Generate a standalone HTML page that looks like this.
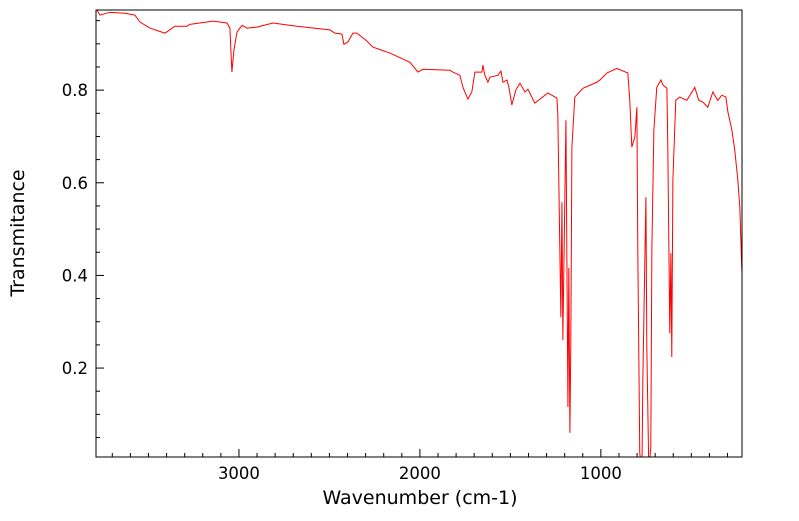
<!DOCTYPE html>
<html><head><meta charset="utf-8"><style>
html,body{margin:0;padding:0;background:#fff;}
svg text{font-family:"DejaVu Sans",sans-serif;fill:#000;}
</style></head><body>
<svg id="chart" width="799" height="516" xmlns="http://www.w3.org/2000/svg">
<defs><clipPath id="clip"><rect x="96" y="10" width="646" height="447"/></clipPath></defs>
<g id="ticks"></g>
<path id="line" fill="none" stroke="#ff0000" stroke-width="1" clip-path="url(#clip)"/>
<rect x="96" y="10" width="646" height="447" fill="none" stroke="#000" stroke-width="1"/>
<text x="420" y="504" font-size="19" text-anchor="middle">Wavenumber (cm-1)</text>
<text x="24" y="233" font-size="19" text-anchor="middle" transform="rotate(-90 24 233)">Transmitance</text>
</svg>
<script>
const wavenumbers=[3785,3768,3713,3630,3575,3547,3492,3409,3354,3287,3271,3144,3066,3050,3039,3028,3011,2983,2956,2901,2812,2680,2497,2470,2431,2420,2398,2370,2348,2293,2260,2166,2055,2011,1983,1834,1818,1779,1762,1735,1713,1696,1657,1652,1641,1624,1613,1569,1552,1541,1519,1508,1492,1470,1447,1420,1403,1365,1293,1243,1238,1221,1215,1210,1193,1182,1177,1171,1166,1160,1144,1099,1022,1005,967,912,851,840,829,812,801,796,785,773,768,751,746,735,724,718,707,691,668,657,635,630,619,613,608,602,586,564,525,481,459,436,409,381,354,331,309,298,276,260,243,232,221];
const transmittance=[0.973,0.962,0.968,0.966,0.962,0.947,0.934,0.923,0.938,0.938,0.942,0.949,0.945,0.934,0.839,0.886,0.925,0.940,0.934,0.936,0.945,0.938,0.930,0.923,0.921,0.899,0.904,0.923,0.923,0.906,0.893,0.880,0.860,0.839,0.845,0.843,0.839,0.832,0.806,0.781,0.796,0.839,0.839,0.854,0.832,0.817,0.828,0.832,0.841,0.817,0.822,0.806,0.768,0.800,0.815,0.796,0.802,0.772,0.794,0.783,0.750,0.310,0.558,0.260,0.735,0.116,0.416,0.060,0.254,0.677,0.785,0.804,0.817,0.822,0.837,0.847,0.837,0.778,0.677,0.699,0.763,0.461,0.016,-0.02,0.174,0.569,0.245,-0.02,0.029,0.461,0.714,0.806,0.822,0.811,0.804,0.677,0.275,0.448,0.224,0.606,0.778,0.785,0.778,0.806,0.778,0.774,0.763,0.796,0.778,0.789,0.785,0.753,0.714,0.670,0.606,0.547,0.411];
const xTickLabels=["3000","2000","1000"];
const yTickLabels=["0.2","0.4","0.6","0.8"];
const X0=96,X1=742,Y0=457,Y1=10,xMax=3790,xMin=220,yMin=0.008,yMax=0.973;
function sx(v){return X0+(xMax-v)/(xMax-xMin)*(X1-X0);}
function sy(v){return Y0-(v-yMin)/(yMax-yMin)*(Y0-Y1);}
const NS="http://www.w3.org/2000/svg";
let d="";
for(let i=0;i<wavenumbers.length;i++){d+=(i?"L":"M")+sx(wavenumbers[i]).toFixed(2)+","+sy(transmittance[i]).toFixed(2);}
document.getElementById("line").setAttribute("d",d);
const g=document.getElementById("ticks");
const svg=document.getElementById("chart");
function ln(x1,y1,x2,y2){const l=document.createElementNS(NS,"line");
l.setAttribute("x1",x1);l.setAttribute("y1",y1);l.setAttribute("x2",x2);l.setAttribute("y2",y2);
l.setAttribute("stroke","#000");l.setAttribute("stroke-width","1");


g.appendChild(l);}
for(let w=300;w<=3700;w+=100){const x=sx(w);const major=(w%1000===0);ln(x,Y0,x,Y0-(major?8:4));}
for(let k=1;k<=19;k++){const v=k*0.05;const y=sy(v);if(y<Y1)continue;const major=(k%4===0);ln(X0,y,X0+(major?8:4),y);}
xTickLabels.forEach(s=>{const t=document.createElementNS(NS,"text");
t.setAttribute("x",sx(parseFloat(s)));t.setAttribute("y",479);t.setAttribute("font-size","16.5");t.setAttribute("text-anchor","middle");
t.textContent=s;


svg.appendChild(t);});
yTickLabels.forEach(s=>{const t=document.createElementNS(NS,"text");
t.setAttribute("x",88);t.setAttribute("y",sy(parseFloat(s))+6);t.setAttribute("font-size","16.5");t.setAttribute("text-anchor","end");
t.textContent=s;


svg.appendChild(t);});
</script>
</body></html>
